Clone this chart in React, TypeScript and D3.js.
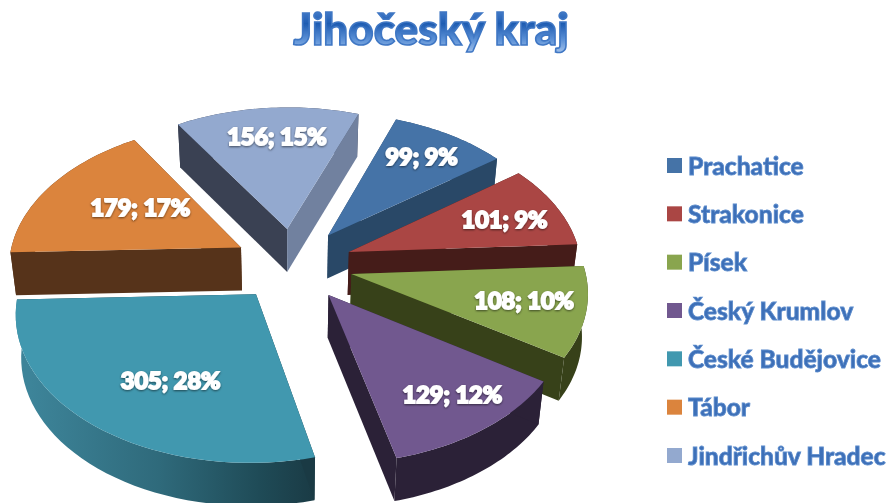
import React from "react";
import * as d3 from "d3";

const categories = ["Prachatice", "Strakonice", "Písek", "Český Krumlov", "České Budějovice", "Tábor", "Jindřichův Hradec"];
const values = [99, 101, 108, 129, 305, 179, 156];
const percents = [9, 9, 10, 12, 28, 17, 15];
const topColors = ["#4573a7", "#aa4644", "#89a54e", "#71588f", "#4198af", "#db843d", "#93a9cf"];
const startWallColors = ["#294867", "#451c19", "#374119", "#2b2137", "#1a3a44", "#56331a", "#3a4153"];
const endWallColors = ["#294867", "#451c19", "#374119", "#2b2137", "#1a3a44", "#56331a", "#71819f"];
const rimColors = ["#294867", "#451c19", "#374119", "#2b2137", "url(#tealRim)", "#56331a", "#3a4153"];
const paintOrder = [6, 0, 5, 1, 2, 3, 4];
const labelFraction = [0.77, 0.74, 0.74, 0.78, 0.63, 0.55, 0.75];
const labelTurn = [-1, 1, -1, -2, -6, 5, 2];
const title = "Jihočeský kraj";

const START = (20 * Math.PI) / 180;
const RADIUS = 235.5;
const EXPLODE = 60.6;
const CENTER_U = -7;
const CENTER_V = -25.5;
const X0 = 300;
const Y0 = 280;
const TILT = 0.62;
const PERSPECTIVE = 0.00048;
const DEPTH = 43;

type P = [number, number];

const project = (u: number, v: number): P => {
  const s = 1 / (1 - PERSPECTIVE * v);
  return [X0 + u * s, Y0 + TILT * v * s];
};
const lower = ([x, y]: P): P => [290 + (x - 290) * 0.98, y + DEPTH];
const polyline = d3.line<P>();
const closed = (pts: P[]) => polyline(pts) + "Z";

const arcs = d3.pie<number>().sort(null).startAngle(START).endAngle(START + 2 * Math.PI)(values);

const slices = arcs.map((a, i) => {
  const mid = (a.startAngle + a.endAngle) / 2;
  const au = CENTER_U + EXPLODE * Math.sin(mid);
  const av = CENTER_V - EXPLODE * Math.cos(mid);
  const at = (r: number, t: number): P => project(au + r * Math.sin(t), av - r * Math.cos(t));
  const rim: P[] = d3.range(0, 41).map((k) => at(RADIUS, a.startAngle + ((a.endAngle - a.startAngle) * k) / 40));
  const apex = at(0, 0);
  const turn = (labelTurn[i] * Math.PI) / 180;
  const label = at(RADIUS * labelFraction[i], mid + turn);
  return { i, rim, apex, label };
});

export default function App() {
  const legendRow = d3.scalePoint<string>().domain(categories).range([165, 455]);
  return (
    <svg width={887} height={503} style={{ position: "absolute", left: 0, top: 0, display: "block", background: "#fff" }}>
      <defs>
        <linearGradient id="tealRim" gradientUnits="userSpaceOnUse" x1={30} x2={317} y1={0} y2={0}>
          <stop offset="0" stopColor="#3d8499" />
          <stop offset="0.45" stopColor="#2f6a7b" />
          <stop offset="0.8" stopColor="#1f4b57" />
          <stop offset="1" stopColor="#1a3a44" />
        </linearGradient>
        <linearGradient id="titleFill" x1="0" x2="0" y1="0" y2="1">
          <stop offset="0" stopColor="#5d90d8" />
          <stop offset="0.42" stopColor="#1e5cb2" />
          <stop offset="0.72" stopColor="#5b90d6" />
          <stop offset="1" stopColor="#a8c6ec" />
        </linearGradient>
        <filter id="labelShadow" x="-10%" y="-20%" width="120%" height="150%">
          <feDropShadow dx="0" dy="1" stdDeviation="1.2" floodColor="#000" floodOpacity="0.55" />
        </filter>
        <filter id="soft" x="-5%" y="-30%" width="110%" height="170%">
          <feGaussianBlur stdDeviation="0.4" />
        </filter>
      </defs>

      <text x={431} y={45} textAnchor="middle" fontFamily="Lato" fontWeight={900} fontSize={44}
        fill="url(#titleFill)" stroke="#3f77c4" strokeWidth={1.6} filter="url(#soft)">{title}</text>

      {paintOrder.map((i) => {
        const { rim, apex } = slices[i];
        const first = rim[0];
        const last = rim[rim.length - 1];
        return (
          <g key={categories[i]}>
            <path d={closed([...rim, ...rim.map(lower).reverse()])} fill={rimColors[i]} />
            <path d={closed([apex, first, lower(first), lower(apex)])} fill={startWallColors[i]} />
            <path d={closed([apex, last, lower(last), lower(apex)])} fill={endWallColors[i]} />
            <path d={closed([apex, ...rim])} fill={topColors[i]} />
          </g>
        );
      })}

      {slices.map(({ i, label }) => (
        <text key={i} x={label[0]} y={label[1]} textAnchor="middle" dominantBaseline="central"
          fontFamily="Lato" fontWeight={900} fontSize={23.5} fill="#fff" stroke="#fff" strokeWidth={1.8}
          filter="url(#labelShadow)">{`${values[i]}; ${percents[i]}%`}</text>
      ))}

      {categories.map((c, i) => {
        const y = legendRow(c)!;
        return (
          <g key={c}>
            <rect x={667} y={y - 7} width={15} height={15} fill={topColors[i]} />
            <text x={688} y={y} dominantBaseline="central" fontFamily="Lato" fontWeight={900} fontSize={24.5}
              fill="#3d6fb8" stroke="#5b8bcb" strokeWidth={0.8} filter="url(#soft)">{c}</text>
          </g>
        );
      })}
    </svg>
  );
}
